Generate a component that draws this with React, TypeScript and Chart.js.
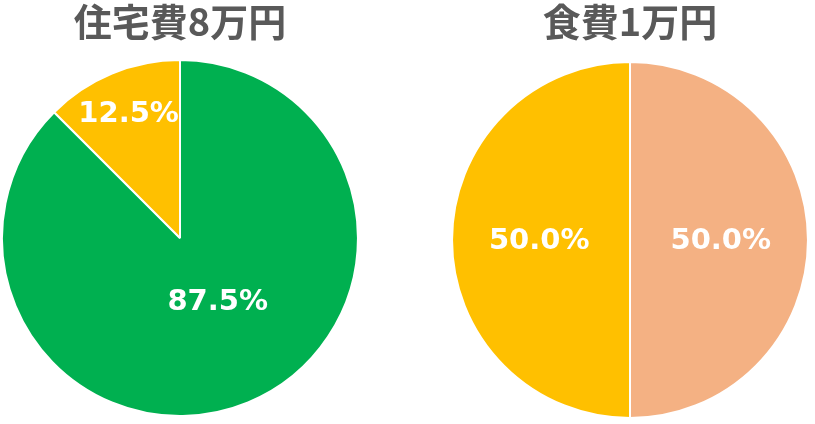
import React, { useEffect, useRef } from "react";
import { Chart, registerables } from "chart.js";

Chart.register(...registerables);

const housingTitle = "住宅費8万円";
const housingCategories = ["負担分", "その他"];
const housingValues = [7, 1];

const foodTitle = "食費1万円";
const foodCategories = ["その他", "負担分"];
const foodValues = [0.5, 0.5];

const GREEN = "#00B050";
const YELLOW = "#FFC000";
const SALMON = "#F4B183";

const pctLabelPlugin = {
  id: "pctLabels",
  afterDatasetsDraw(chart: any, _args: any, opts: any) {
    const ctx = chart.ctx;
    const meta = chart.getDatasetMeta(0);
    const data = chart.data.datasets[0].data as number[];
    const total = data.reduce((a, b) => a + b, 0);
    const place = opts.place || [];
    ctx.save();
    ctx.fillStyle = "#FFFFFF";
    ctx.font = "bold 29px 'DejaVu Sans'";
    ctx.textAlign = "center";
    ctx.textBaseline = "middle";
    meta.data.forEach((arc: any, i: number) => {
      const p = arc.getProps(["x", "y", "startAngle", "endAngle", "outerRadius"], true);
      const pl = place[i] || { f: 0.6, da: 0, dy: 0 };
      const mid = (p.startAngle + p.endAngle) / 2 + (pl.da * Math.PI) / 180;
      const r = p.outerRadius * pl.f;
      const x = p.x + Math.cos(mid) * r;
      const y = p.y + Math.sin(mid) * r + (pl.dy || 0);
      const txt = ((data[i] / total) * 100).toFixed(1) + "%";
      ctx.fillText(txt, x, y);
    });
    ctx.restore();
  },
};

function PieChart(props: {
  title: string;
  labels: string[];
  values: number[];
  colors: string[];
  titleBottom: number;
  padBottom: number;
  place: any[];
}) {
  const ref = useRef<HTMLCanvasElement>(null);
  useEffect(() => {
    if (!ref.current) return;
    const chart = new Chart(ref.current, {
      type: "pie",
      data: {
        labels: props.labels,
        datasets: [
          {
            data: props.values,
            backgroundColor: props.colors,
            borderColor: "#FFFFFF",
            borderWidth: 2,
          },
        ],
      },
      options: {
        responsive: false,
        animation: false,
        layout: { padding: { top: 0, bottom: props.padBottom, left: 0, right: 0 } },
        plugins: {
          legend: { display: false },
          tooltip: { enabled: false },
          title: {
            display: true,
            text: props.title,
            color: "#595959",
            font: { family: "'Noto Sans CJK JP'", size: 38, weight: "bold", lineHeight: 1.16 },
            padding: { top: 0, bottom: props.titleBottom },
          },
          pctLabels: { place: props.place },
        } as any,
      },
      plugins: [pctLabelPlugin],
    });
    return () => chart.destroy();
  }, []);
  return <canvas ref={ref} width={360} height={424} style={{ display: "block" }} />;
}

export default function App() {
  return (
    <div style={{ position: "absolute", left: 0, top: 0, width: 815, height: 424, background: "#fff" }}>
      <div style={{ position: "absolute", left: 0, top: 0 }}>
        <PieChart
          title={housingTitle}
          labels={housingCategories}
          values={housingValues}
          colors={[GREEN, YELLOW]}
          titleBottom={15}
          padBottom={7}
          place={[
            { f: 0.416, da: -8.1, dy: 1 },
            { f: 0.755, da: 0, dy: 1 },
          ]}
        />
      </div>
      <div style={{ position: "absolute", left: 450, top: 0 }}>
        <PieChart
          title={foodTitle}
          labels={foodCategories}
          values={foodValues}
          colors={[SALMON, YELLOW]}
          titleBottom={17}
          padBottom={5}
          place={[
            { f: 0.51, da: 0, dy: 1 },
            { f: 0.51, da: 0, dy: 1 },
          ]}
        />
      </div>
    </div>
  );
}
